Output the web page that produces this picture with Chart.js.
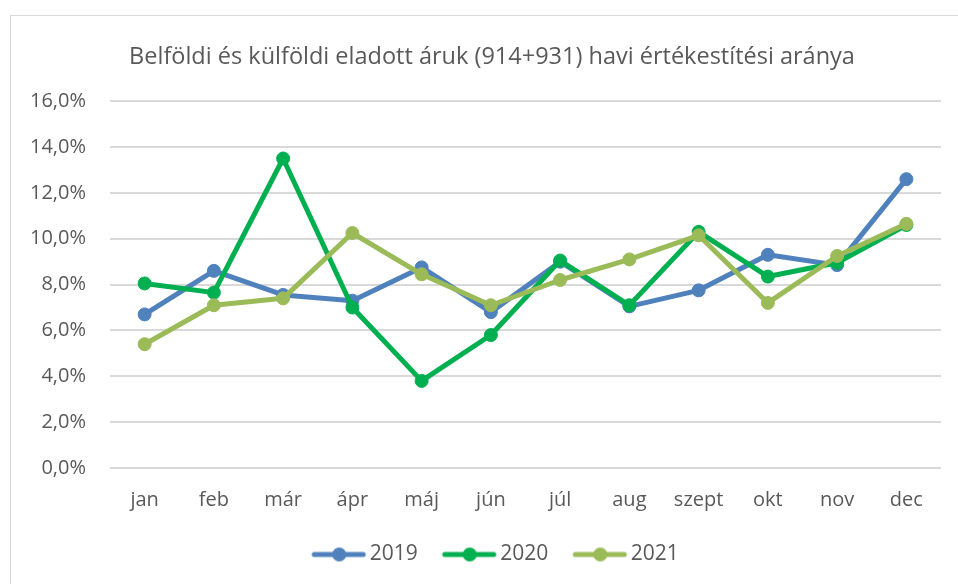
<!DOCTYPE html>
<html>
<head>
<meta charset="utf-8">
<script src="https://cdn.jsdelivr.net/npm/chart.js@4.4.0/dist/chart.umd.min.js"></script>
<style>
    html, body { margin: 0; padding: 0; background: #fff; overflow: hidden; }
    #frame {
        position: absolute; left: 10px; top: 15px;
        width: 970px; height: 580px;
        border-left: 1px solid #d9d9d9; border-top: 1px solid #d9d9d9;
    }
    #chart { display: block; }
</style>
</head>
<body>
<div id="frame"><canvas id="chart" width="962" height="569"></canvas></div>
<script>
const months = ['jan', 'feb', 'már', 'ápr', 'máj', 'jún', 'júl', 'aug', 'szept', 'okt', 'nov', 'dec'];
const years = ['2019', '2020', '2021'];
const values2019 = [6.7, 8.6, 7.55, 7.3, 8.75, 6.8, 9.0, 7.05, 7.75, 9.3, 8.85, 12.6];
const values2020 = [8.05, 7.65, 13.5, 7.0, 3.8, 5.8, 9.05, 7.1, 10.3, 8.35, 8.95, 10.6];
const values2021 = [5.4, 7.1, 7.4, 10.25, 8.45, 7.1, 8.2, 9.1, 10.15, 7.2, 9.25, 10.65];
const yTicks = [0, 2, 4, 6, 8, 10, 12, 14, 16];

const colors = ['#4f81bd', '#00b050', '#9bbb59'];
const textColor = '#595959';
const font = "'Open Sans', sans-serif";

// excel style legend key: a short line with a dot in the middle
function legendKey(color) {
    const c = document.createElement('canvas');
    c.width = 58; c.height = 16;
    const ctx = c.getContext('2d');
    ctx.strokeStyle = color;
    ctx.lineWidth = 5;
    ctx.lineCap = 'round';
    ctx.beginPath();
    ctx.moveTo(4, 8); ctx.lineTo(53, 8);
    ctx.stroke();
    ctx.fillStyle = color;
    ctx.beginPath();
    ctx.arc(29, 8, 7, 0, Math.PI * 2);
    ctx.fill();
    return c;
}

// legend sits a few px right of centre in the original
const legendNudge = {
    id: 'legendNudge',
    afterLayout(chart) {
        chart.legend.left += 7;
        chart.legend.right += 7;
    }
};

const series = [values2019, values2020, values2021];
const datasets = series.map((data, i) => ({
    label: years[i],
    data: data,
    borderColor: colors[i],
    backgroundColor: colors[i],
    borderWidth: 5,
    borderJoinStyle: 'round',
    borderCapStyle: 'round',
    pointRadius: 6.5,
    pointBorderWidth: 1,
    pointBackgroundColor: colors[i],
    pointBorderColor: colors[i],
    tension: 0,
    order: 3 - i // later years on top, like excel
}));

new Chart(document.getElementById('chart'), {
    type: 'line',
    data: { labels: months, datasets: datasets },
    plugins: [legendNudge],
    options: {
        responsive: false,
        animation: false,
        layout: { padding: { left: 0, right: 0, top: 0, bottom: 10 } },
        plugins: {
            title: {
                display: true,
                text: 'Belföldi és külföldi eladott áruk (914+931) havi értékestítési aránya',
                color: textColor,
                font: { family: font, size: 23.5, weight: 'normal' },
                padding: { top: 27, bottom: 30 }
            },
            legend: {
                position: 'bottom',
                labels: {
                    color: textColor,
                    font: { family: font, size: 21 },
                    usePointStyle: true,
                    pointStyleWidth: 40,
                    padding: 32,
                    sort: (a, b) => a.datasetIndex - b.datasetIndex,
                    generateLabels: (chart) => chart.data.datasets.map((ds, i) => ({
                        text: ds.label,
                        pointStyle: legendKey(colors[i]),
                        fillStyle: colors[i],
                        strokeStyle: colors[i],
                        lineWidth: 0,
                        fontColor: textColor,
                        hidden: false,
                        datasetIndex: i
                    }))
                }
            },
            tooltip: { enabled: false }
        },
        scales: {
            x: {
                offset: true,
                grid: { display: false, drawTicks: false },
                border: { display: false },
                ticks: { color: textColor, font: { family: font, size: 20 }, padding: 20, maxRotation: 0 },
                afterFit: (s) => { s.height = 44; }
            },
            y: {
                min: 0,
                max: 16,
                afterBuildTicks: (s) => { s.ticks = yTicks.map(v => ({ value: v })); },
                grid: { color: '#d9d9d9', lineWidth: 2, drawTicks: false },
                border: { display: false },
                ticks: {
                    color: textColor,
                    font: { family: font, size: 20 },
                    padding: 24,
                    callback: (v) => v.toFixed(1).replace('.', ',') + '%'
                },
                afterFit: (s) => { s.width = 99; }
            },
            // empty spacer on the right so title and legend sit where excel puts them
            spacer: {
                type: 'linear',
                position: 'right',
                grid: { display: false, drawTicks: false },
                border: { display: false },
                ticks: { display: false },
                afterFit: (s) => { s.width = 32; }
            }
        }
    }
});
</script>
</body>
</html>
